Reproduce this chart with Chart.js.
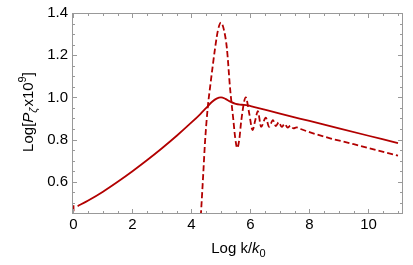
<!DOCTYPE html>
<html>
<head>
<meta charset="utf-8">
<script src="https://cdn.jsdelivr.net/npm/chart.js@4.4.0/dist/chart.umd.min.js"></script>
<style>
  html, body { margin: 0; padding: 0; background: #fff; }
  #wrap { width: 413px; height: 265px; }
</style>
</head>
<body>
<div id="wrap"><canvas id="myChart"></canvas></div>
<script>
// solid curve
const solidX = [0.14, 0.5, 1, 1.5, 2, 2.5, 3, 3.5, 4, 4.3, 4.5, 4.7, 4.85, 5.0, 5.15, 5.3, 5.5, 5.7, 5.9, 6.1, 7, 8, 9, 10, 11];
const solidY = [0.484, 0.511, 0.553, 0.600, 0.650, 0.703, 0.759, 0.818, 0.881, 0.921, 0.950, 0.979, 0.994, 1.0, 0.993, 0.981, 0.969, 0.965, 0.962, 0.955, 0.923, 0.888, 0.853, 0.818, 0.783];

// dashed curve (goes off the bottom between x~0 and x~4.3)
const dashX = [0, 0.03, 4.1, 4.2, 4.32, 4.4, 4.46, 4.55, 4.65, 4.8, 4.9, 5.0, 5.1, 5.2, 5.31, 5.42, 5.48, 5.55, 5.62, 5.69, 5.84, 5.96, 6.07, 6.16, 6.25, 6.36, 6.52, 6.63, 6.76, 6.86, 6.96, 7.06, 7.16, 7.26, 7.36, 7.46, 7.56, 7.7, 8.0, 8.7, 9.5, 10.3, 11];
const dashY = [0.488, 0.2, 0.2, 0.2, 0.447, 0.64, 0.79, 0.95, 1.07, 1.233, 1.32, 1.355, 1.32, 1.233, 1.04, 0.892, 0.81, 0.76, 0.8, 0.892, 1.0, 0.922, 0.845, 0.89, 0.935, 0.86, 0.904, 0.86, 0.892, 0.864, 0.882, 0.86, 0.874, 0.857, 0.866, 0.853, 0.858, 0.85, 0.835, 0.806, 0.778, 0.749, 0.724];

const xTicks = [0, 2, 4, 6, 8, 10];
const yTicks = [0.6, 0.8, 1.0, 1.2, 1.4];

const red = '#b20000';
const fontFam = '"Liberation Sans", Arial, sans-serif';

function toPoints(xs, ys) {
    return xs.map((x, i) => ({ x: x, y: ys[i] }));
}

// draw a string made of pieces with different styles, centred on (cx, cy baseline)
function drawRich(ctx, segs, cx, cy) {
    let total = 0;
    segs.forEach(s => {
        ctx.font = (s.italic ? 'italic ' : '') + (s.size || 15) + 'px ' + fontFam;
        s.w = ctx.measureText(s.t).width + (s.gap || 0);
        total += s.w;
    });
    let x = cx - total / 2;
    segs.forEach(s => {
        ctx.font = (s.italic ? 'italic ' : '') + (s.size || 15) + 'px ' + fontFam;
        ctx.fillText(s.t, x, cy + (s.dy || 0));
        x += s.w;
    });
}

const framePlugin = {
    id: 'frame',
    afterDatasetsDraw(chart) {
        const { ctx, chartArea: a, scales: { x, y } } = chart;
        ctx.save();
        ctx.strokeStyle = '#999';
        ctx.lineWidth = 1;
        const L = Math.round(a.left) + 0.5, R = Math.round(a.right) - 0.5;
        const T = Math.round(a.top) + 0.5, B = Math.round(a.bottom) - 0.5;
        ctx.strokeRect(L, T, R - L, B - T);
        ctx.beginPath();
        // x ticks every 0.5, longer on labelled ones
        for (let v = 0; v <= 11.01; v += 0.5) {
            const px = Math.round(x.getPixelForValue(v)) + 0.5;
            const len = xTicks.includes(v) ? 4.5 : 2.5;
            ctx.moveTo(px, B); ctx.lineTo(px, B - len);
            ctx.moveTo(px, T); ctx.lineTo(px, T + len);
        }
        // y ticks every 0.05
        for (let k = 9; k <= 28; k++) {
            const v = k * 0.05;
            const py = Math.round(y.getPixelForValue(v)) + 0.5;
            const len = (k % 4 === 0) ? 4.5 : 2.5;
            ctx.moveTo(L, py); ctx.lineTo(L + len, py);
            ctx.moveTo(R, py); ctx.lineTo(R - len, py);
        }
        ctx.stroke();
        ctx.restore();
    },
    afterDraw(chart) {
        const ctx = chart.ctx;
        ctx.save();
        ctx.fillStyle = '#000';
        ctx.textBaseline = 'alphabetic';
        drawRich(ctx, [
            { t: 'Log k/' },
            { t: 'k', italic: true },
            { t: '0', size: 11, dy: 4 }
        ], 238.5, 252.5);
        ctx.translate(32.5, 112);
        ctx.rotate(-Math.PI / 2);
        drawRich(ctx, [
            { t: 'Log[' },
            { t: 'P', italic: true },
            { t: '\u03B6', italic: true, size: 11, dy: 4, gap: 1 },
            { t: 'x10' },
            { t: '9', size: 11, dy: -7 },
            { t: ']' }
        ], 0, 0);
        ctx.restore();
    }
};

const ctx = document.getElementById('myChart').getContext('2d');
const myChart = new Chart(ctx, {
    type: 'line',
    data: {
        datasets: [{
            data: toPoints(solidX, solidY),
            borderColor: red,
            borderWidth: 1.8,
            pointRadius: 0,
            cubicInterpolationMode: 'monotone',
            clip: 0
        }, {
            data: toPoints(dashX, dashY),
            borderColor: red,
            borderWidth: 1.8,
            borderDash: [6, 3],
            pointRadius: 0,
            cubicInterpolationMode: 'monotone',
            clip: 0
        }]
    },
    options: {
        responsive: true,
        maintainAspectRatio: false,
        animation: false,
        layout: { padding: { top: 9, right: 10, left: 0, bottom: 0 } },
        plugins: { legend: { display: false }, tooltip: { enabled: false } },
        scales: {
            x: {
                type: 'linear',
                min: -0.05,
                max: 11.17,
                afterBuildTicks: s => { s.ticks = xTicks.map(v => ({ value: v })); },
                afterFit: s => { s.height = 51; },
                grid: { display: false, drawTicks: false },
                border: { display: false },
                ticks: {
                    color: '#000',
                    padding: 2,
                    maxRotation: 0,
                    font: { family: fontFam, size: 15 },
                    callback: v => String(v)
                }
            },
            y: {
                type: 'linear',
                min: 0.447,
                max: 1.4,
                afterBuildTicks: s => { s.ticks = yTicks.map(v => ({ value: v })); },
                afterFit: s => { s.width = 72; },
                grid: { display: false, drawTicks: false },
                border: { display: false },
                ticks: {
                    color: '#000',
                    padding: 4,
                    font: { family: fontFam, size: 15 },
                    callback: v => v.toFixed(1)
                }
            }
        }
    },
    plugins: [framePlugin]
});
</script>
</body>
</html>
